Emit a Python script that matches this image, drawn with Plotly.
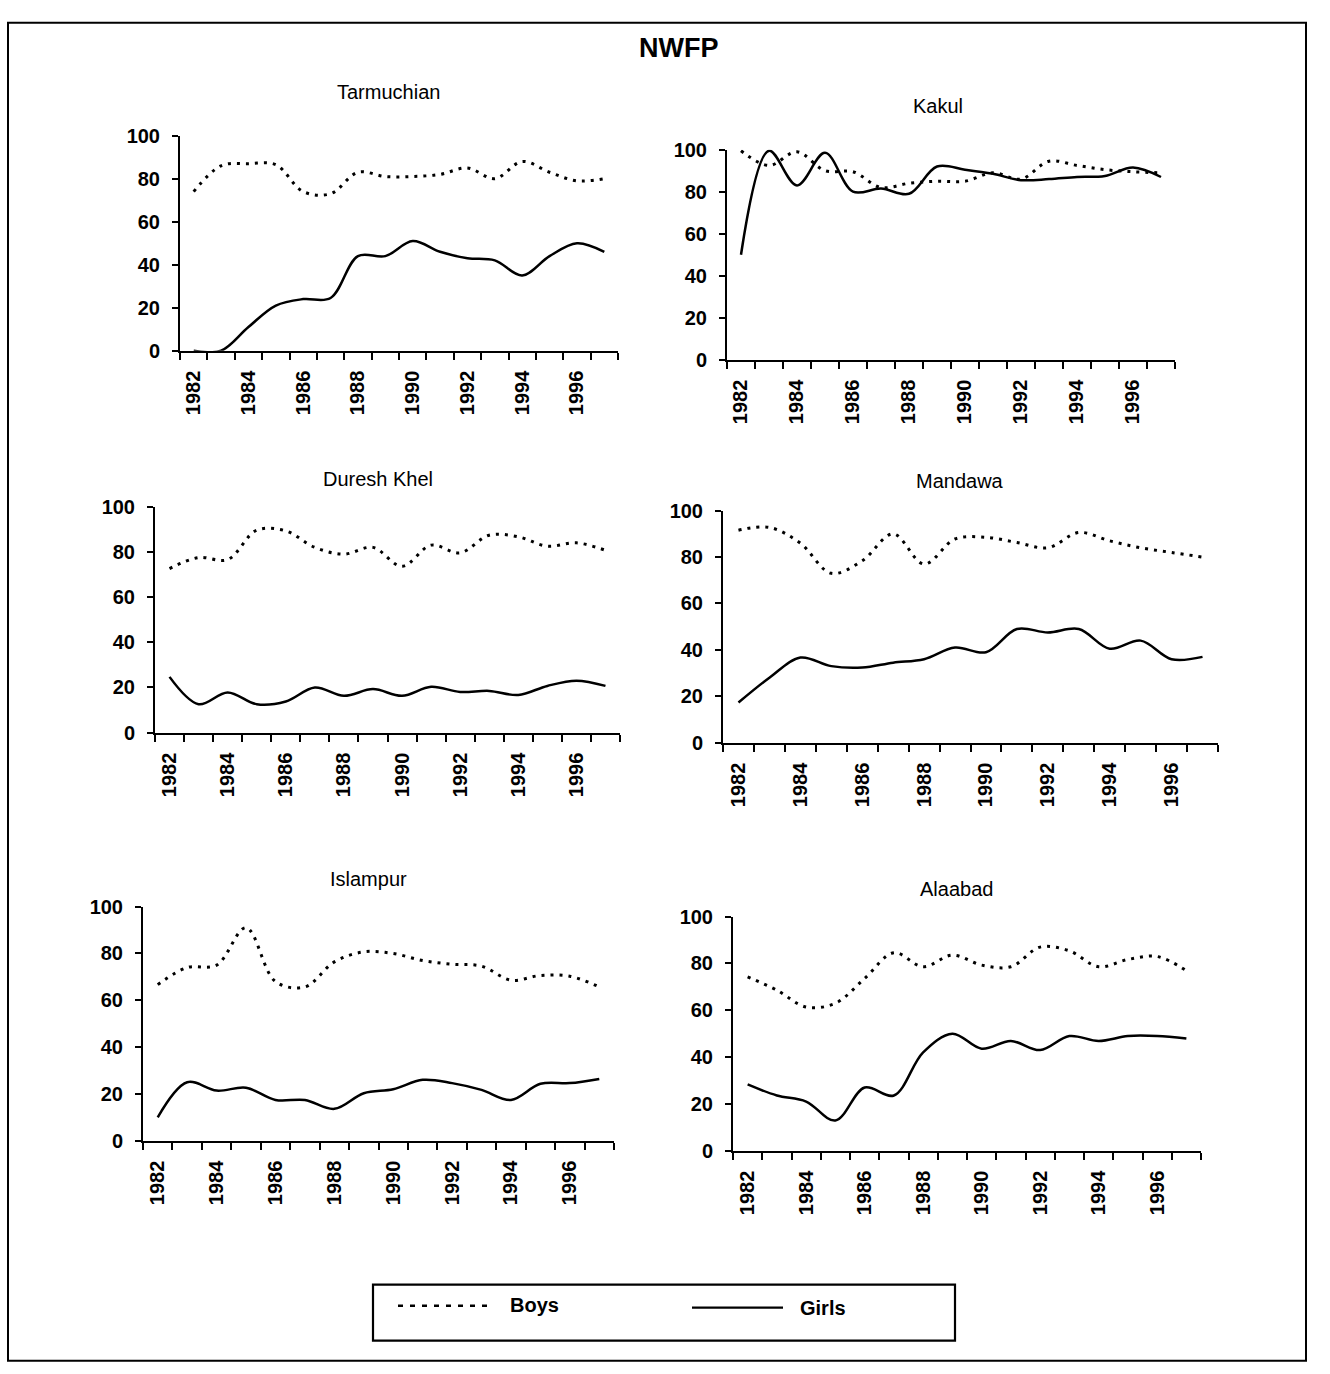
import plotly.graph_objects as go

years = list(range(1982, 1998))
tick_years = [1982, 1984, 1986, 1988, 1990, 1992, 1994, 1996]

stations = ["Tarmuchian", "Kakul", "Duresh Khel", "Mandawa", "Islampur", "Alaabad"]

tarmuchian_boys = [74, 86, 87, 86.5, 74, 73, 83, 81, 81, 82, 85, 80, 88, 83, 79, 80]
tarmuchian_girls = [0, 0, 11, 21, 24, 24.5, 44, 44, 51, 46, 43, 42, 35, 44, 50, 46]

kakul_boys = [99.5, 92.5, 99, 90, 89.5, 82, 84, 85, 85, 89, 86, 94.5, 92.5, 90.5, 89.5, 89]
kakul_girls = [50, 99.5, 83, 98.5, 80, 81.5, 79, 92, 90.5, 88.5, 85.5, 86, 87, 87.5, 91.5, 87]

duresh_boys = [72.6, 77.5, 76.6, 89.6, 89.3, 82, 79, 82, 73.6, 83, 79.6, 87.4, 86.7, 82.5, 84, 80.7]
duresh_girls = [24.7, 12.6, 17.8, 12.6, 13.8, 20, 16.3, 19.3, 16.3, 20.3, 18, 18.5, 16.7, 20.7, 23, 20.7]

mandawa_boys = [91.6, 92.8, 86, 73, 78.4, 90, 77, 87.8, 88.5, 86.3, 84, 90.6, 87, 84, 82, 80]
mandawa_girls = [17.3, 28, 36.7, 33, 32.4, 34.5, 36, 41, 39, 49, 47.5, 49, 40.5, 44, 36, 37]

islampur_boys = [66.7, 74, 75, 91, 68, 65.7, 76.4, 80.7, 80, 77, 75.4, 74.6, 68.6, 70.6, 70.3, 65.7]
islampur_girls = [10, 25, 21.4, 22.6, 17.4, 17.4, 13.6, 20.3, 22, 26, 24.6, 21.7, 17.4, 24.3, 24.6, 26.4]

alaabad_boys = [74.3, 68.6, 61.4, 63, 73.6, 84.6, 78.6, 83.6, 79.3, 78.6, 87, 85.4, 78.6, 81.7, 83, 76.9]
alaabad_girls = [28.3, 23.6, 21, 12.9, 27, 23.6, 42, 50, 43.6, 46.9, 43, 49, 46.9, 49, 49, 47.9]

boys_series = [tarmuchian_boys, kakul_boys, duresh_boys, mandawa_boys, islampur_boys, alaabad_boys]
girls_series = [tarmuchian_girls, kakul_girls, duresh_girls, mandawa_girls, islampur_girls, alaabad_girls]

W, H = 1330, 1374


def PX(x):
    return x / W


def PY(y):
    # target screen pixel row -> paper fraction (compensates observed vertical rendering scale)
    return 1 - ((y - 10.3) / 0.984) / H


# plot boxes in pixels: (x_left, x_right, y_top(100), y_bottom(0))
boxes = [
    (180, 618, 135, 350),
    (727, 1175, 149, 359),
    (155, 620, 506, 732),
    (723, 1218, 510, 742),
    (143, 614, 906, 1140),
    (733, 1201, 916, 1150),
]
title_pos = [(388, 91), (938, 105), (378, 478), (960, 480), (368, 878), (956, 888)]

FONT = "Liberation Sans, Arial, sans-serif"
TICKFONT = dict(size=20, family=FONT, color="black", weight="bold")

fig = go.Figure()
layout = dict(
    width=W, height=H, margin=dict(l=0, r=0, t=0, b=0),
    paper_bgcolor="white", plot_bgcolor="white", showlegend=False,
    font=dict(family=FONT, color="black", size=19),
)
annotations = []
shapes = []

for i, (name, boys, girls, box) in enumerate(zip(stations, boys_series, girls_series, boxes)):
    k = "" if i == 0 else str(i + 1)
    xa, ya = "x" + k, "y" + k
    fig.add_trace(go.Scatter(x=years, y=boys, mode="lines", xaxis=xa, yaxis=ya,
                             line=dict(color="black", width=3, dash="3px,6px", shape="spline", smoothing=1.0),
                             name="Boys"))
    fig.add_trace(go.Scatter(x=years, y=girls, mode="lines", xaxis=xa, yaxis=ya,
                             line=dict(color="black", width=2.5, shape="spline", smoothing=1.0),
                             name="Girls"))
    x0, x1, yt, yb = box
    layout["xaxis" + k] = dict(
        domain=[PX(x0), PX(x1)], anchor=ya, range=[1981.5, 1997.5],
        showline=True, linecolor="black", linewidth=2, showgrid=False, zeroline=False,
        tickmode="array", tickvals=tick_years, ticktext=[str(y) for y in tick_years],
        ticks="", tickangle=-90, tickfont=TICKFONT,
        ticklabelstandoff=10,
        minor=dict(tickmode="array", tickvals=[y - 0.5 for y in years] + [1997.5],
                   ticks="outside", ticklen=7, tickwidth=1.6, tickcolor="black"),
    )
    layout["yaxis" + k] = dict(
        domain=[PY(yb), PY(yt)], anchor=xa, range=[0, 100],
        tickmode="array", tickvals=[0, 20, 40, 60, 80, 100],
        showline=True, linecolor="black", linewidth=2, showgrid=False, zeroline=False,
        ticks="outside", ticklen=6, tickwidth=1.6, tickcolor="black",
        tickfont=TICKFONT, ticklabelstandoff=8,
    )
    tx, ty = title_pos[i]
    annotations.append(dict(text=name, x=PX(tx), y=PY(ty), xref="paper", yref="paper",
                            showarrow=False, xanchor="center", yanchor="middle",
                            font=dict(size=20, family=FONT, color="black")))

# main title
annotations.append(dict(text="<b>NWFP</b>", x=PX(678), y=PY(47), xref="paper", yref="paper",
                        showarrow=False, xanchor="center", yanchor="middle",
                        font=dict(size=27, family=FONT, color="black")))

# outer frame
shapes.append(dict(type="rect", xref="paper", yref="paper",
                   x0=PX(8), x1=PX(1306), y0=PY(1360), y1=PY(22),
                   line=dict(color="black", width=2)))

# legend box (manual)
shapes.append(dict(type="rect", xref="paper", yref="paper",
                   x0=PX(373), x1=PX(955), y0=PY(1340), y1=PY(1284),
                   line=dict(color="black", width=2.2)))
shapes.append(dict(type="line", xref="paper", yref="paper",
                   x0=PX(398), x1=PX(490), y0=PY(1305), y1=PY(1305),
                   line=dict(color="black", width=2.6, dash="5px,7px")))
shapes.append(dict(type="line", xref="paper", yref="paper",
                   x0=PX(692), x1=PX(783), y0=PY(1307), y1=PY(1307),
                   line=dict(color="black", width=2.2)))
annotations.append(dict(text="<b>Boys</b>", x=PX(508), y=PY(1304), xref="paper", yref="paper",
                        showarrow=False, xanchor="left", yanchor="middle",
                        font=dict(size=20, family=FONT, color="black")))
annotations.append(dict(text="<b>Girls</b>", x=PX(798), y=PY(1307), xref="paper", yref="paper",
                        showarrow=False, xanchor="left", yanchor="middle",
                        font=dict(size=20, family=FONT, color="black")))

layout["annotations"] = annotations
layout["shapes"] = shapes
fig.update_layout(**layout)
fig.write_html("out.html", config={"displayModeBar": False},
               post_script="document.body.style.margin='0';document.body.style.padding='0';document.body.style.overflow='hidden';")
